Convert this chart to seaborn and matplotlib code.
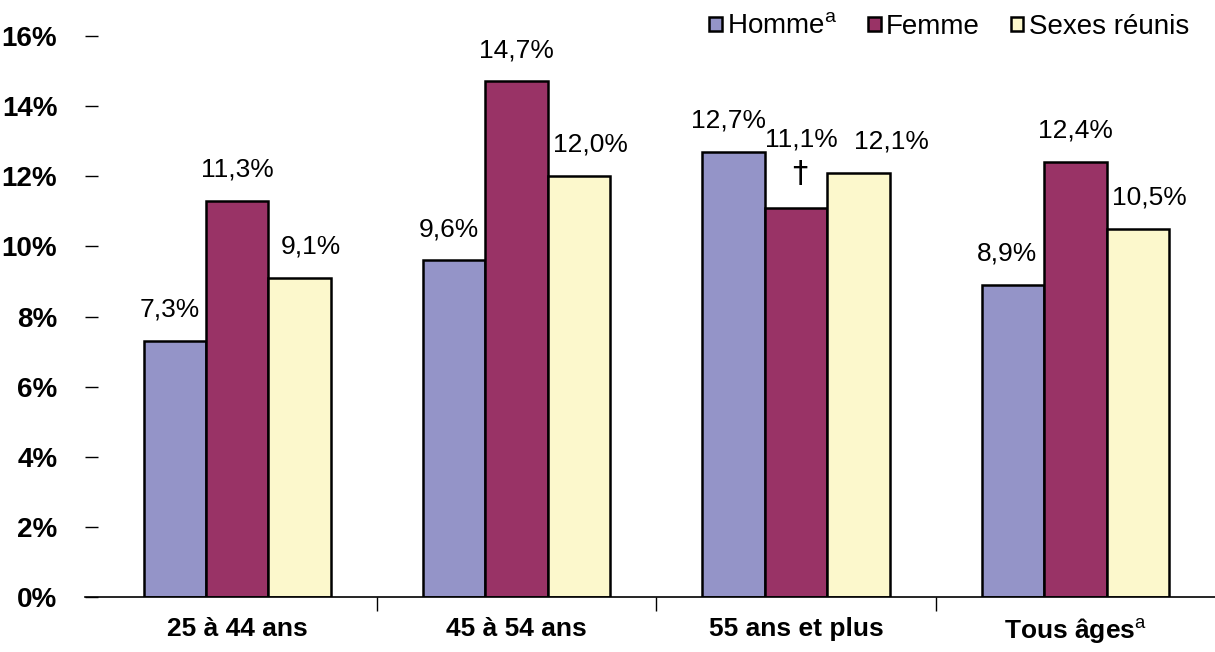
import pandas as pd
import matplotlib
matplotlib.use('Agg')
import matplotlib.pyplot as plt
import seaborn as sns
from matplotlib.ticker import FixedLocator

# Data
groupes = ['25 à 44 ans', '45 à 54 ans', '55 ans et plus', 'Tous âges$^{\\mathrm{a}}$']
series = ['Homme$^{\\mathrm{a}}$', 'Femme', 'Sexes réunis']
homme = [7.3, 9.6, 12.7, 8.9]
femme = [11.3, 14.7, 11.1, 12.4]
sexes = [9.1, 12.0, 12.1, 10.5]
couleurs = ['#9494C8', '#993366', '#FCF8CC']

sns.set_style('white')
plt.rcParams['font.family'] = ['Liberation Sans', 'DejaVu Sans']
plt.rcParams['mathtext.fontset'] = 'custom'
plt.rcParams['mathtext.rm'] = 'Liberation Sans'
plt.rcParams['mathtext.bf'] = 'Liberation Sans:bold'
for k in ['text.color', 'axes.labelcolor', 'xtick.color', 'ytick.color']:
    plt.rcParams[k] = 'black'

df = pd.DataFrame({
    'groupe': groupes * 3,
    'serie': [series[0]] * 4 + [series[1]] * 4 + [series[2]] * 4,
    'valeur': homme + femme + sexes,
})

fig = plt.figure(figsize=(12.15, 6.52), dpi=100)
ax = fig.add_axes([0.07, 0.084, 0.93, 0.861])

sns.barplot(data=df, x='groupe', y='valeur', hue='serie', hue_order=series,
            order=groupes, palette=couleurs, width=0.67, edgecolor='black',
            linewidth=1.8, saturation=1, ax=ax, errorbar=None)

# value labels (small horizontal nudges as in the original)
decalage = [-0.02, 0.0, 0.04]
for cont, vals, dx in zip(ax.containers, [homme, femme, sexes], decalage):
    for bar, v in zip(cont, vals):
        x = bar.get_x() + bar.get_width() / 2 + dx
        y = v + 0.55
        if v == 11.1:
            ax.text(x + 0.015, v + 0.55, '†', ha='center', va='bottom',
                    fontsize=22, family=['DejaVu Sans'])
            y = v + 1.6
            x += 0.02
        if v == 12.1:
            x += 0.08
        ax.text(x, y, f'{v:.1f}%'.replace('.', ','), ha='center', va='bottom',
                fontsize=19)

ax.set_xlim(-0.545, 3.5)
ax.set_ylim(0, 16)
ax.set_yticks(range(0, 17, 2))
ax.set_yticklabels([f'{t}%' for t in range(0, 17, 2)], fontsize=20,
                   fontweight='bold')
ax.tick_params(axis='y', direction='in', length=9, width=1, pad=20, left=True)
ax.set_xticks(range(4))
ax.set_xticklabels(groupes, fontsize=19, fontweight='bold')
ax.xaxis.set_minor_locator(FixedLocator([0.5, 1.5, 2.5]))
ax.tick_params(axis='x', which='major', length=0, pad=14)
ax.tick_params(axis='x', which='minor', direction='out', length=10, width=1,
               bottom=True)
ax.set_xlabel('')
ax.set_ylabel('')
for s in ['top', 'right', 'left']:
    ax.spines[s].set_visible(False)
ax.spines['bottom'].set_linewidth(1.2)
ax.spines['bottom'].set_color('black')

handles, labels = ax.get_legend_handles_labels()
ax.legend(handles, labels, loc='upper right', bbox_to_anchor=(0.99, 1.0),
          bbox_transform=fig.transFigure, ncol=3, frameon=False, fontsize=20,
          handlelength=0.45, handleheight=0.45, handletextpad=0.2,
          columnspacing=1.1, borderaxespad=0.1)

fig.savefig('out.png', dpi=100)
